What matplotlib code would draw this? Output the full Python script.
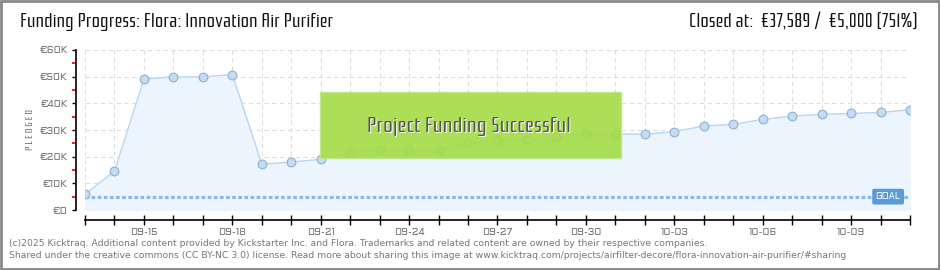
import matplotlib
matplotlib.use("Agg")
import matplotlib.pyplot as plt
from matplotlib.patches import Rectangle
from matplotlib.ticker import FuncFormatter, MultipleLocator

dates = ["09-13", "09-14", "09-15", "09-16", "09-17", "09-18", "09-19", "09-20",
         "09-21", "09-22", "09-23", "09-24", "09-25", "09-26", "09-27", "09-28",
         "09-29", "09-30", "10-01", "10-02", "10-03", "10-04", "10-05", "10-06",
         "10-07", "10-08", "10-09", "10-10", "10-11"]
pledged = [5900, 14600, 49100, 49900, 49900, 50800, 17200, 18000,
           19000, 21500, 22600, 22500, 22500, 25000, 26200, 26100,
           27300, 28500, 28500, 28400, 29400, 31500, 32100, 34000,
           35200, 35900, 36200, 36600, 37589]
goal = 5000
yticks = [0, 10000, 20000, 30000, 40000, 50000, 60000]
label_every = 3

narrow = ["Rationale", "Archivo Narrow", "DejaVu Sans"]
tickfont = ["Aldrich", "DejaVu Sans"]
plt.rcParams["font.family"] = narrow

fig = plt.figure(figsize=(9.4, 2.7), dpi=100)
W, H = 940, 270
ax = fig.add_axes([85 / W, 1 - 210 / H, 825 / W, 160 / H])

x = list(range(len(dates)))
ax.fill_between(x, pledged, 0, color="#ecf4fd", zorder=1)
ax.plot(x, pledged, color="#b9d7f5", lw=1, zorder=3)
ax.plot(x, pledged, "o", ms=6.3, mfc="#c4dcf6", mec="#93afcc", mew=0.8, zorder=4)

# goal line
ax.axhline(goal, color="#8db8e6", lw=2.2, ls=(0, (1.2, 0.8)), zorder=2)

ax.set_xlim(0, len(dates) - 1)
ax.set_ylim(0, 60000)

ax.set_xticks(x)
ax.set_xticklabels([d if (i - 2) % label_every == 0 else "" for i, d in enumerate(dates)])
ax.set_yticks(yticks)
ax.yaxis.set_major_formatter(FuncFormatter(lambda v, p: "€0" if v == 0 else f"€{int(v/1000)}K"))
ax.yaxis.set_minor_locator(MultipleLocator(5000))

ax.grid(True, which="major", color="#dddddd", ls=(0, (4, 3)), lw=0.8, zorder=0)
ax.set_axisbelow(True)

for s in ["top", "right"]:
    ax.spines[s].set_visible(False)
ax.spines["left"].set_position(("outward", 6.5))
ax.spines["bottom"].set_position(("outward", 7.2))
ax.spines["left"].set_linewidth(1.2)
ax.spines["bottom"].set_linewidth(1.2)

ax.tick_params(axis="y", which="major", direction="out", length=3, width=1, color="black",
               pad=3, labelsize=7, labelcolor="#777777", labelfontfamily=tickfont)
ax.tick_params(axis="y", which="minor", direction="out", length=3, width=1.2, color="#ee0000")
ax.tick_params(axis="x", which="major", direction="inout", length=7, width=1, color="black",
               pad=2, labelsize=7, labelcolor="#777777", labelfontfamily=tickfont)

ax.set_ylabel("P L E D G E D", fontsize=7, color="#666666", labelpad=3)

# goal label
ax.text(0.9735, goal, "GOAL", transform=ax.get_yaxis_transform(), ha="center", va="center",
        fontsize=6.5, family=tickfont, color="white", zorder=6,
        bbox=dict(boxstyle="round,pad=0.3,rounding_size=0.15", fc="#5b9bd9", ec="#5b9bd9"))

# success banner
banner = Rectangle((320 / W, 1 - 158 / H), 301 / W, 66 / H, transform=fig.transFigure,
                   fc="#a3dc45", ec="#bde88a", lw=1, alpha=0.9, zorder=10)
fig.add_artist(banner)
fig.text(469 / W + 0.0012, 1 - 126 / H - 0.004, "Project Funding Successful", ha="center", va="center",
         fontsize=15.5, color="white", zorder=11)
fig.text(469 / W, 1 - 126 / H, "Project Funding Successful", ha="center", va="center",
         fontsize=15.5, color="#555555", zorder=12)

# titles
fig.text(20 / W, 1 - 22 / H, "Funding Progress: Flora: Innovation Air Purifier", ha="left", va="center",
         fontsize=13.4, color="#111111")
fig.text(918 / W, 1 - 22 / H, "Closed at:  €37,589 /  €5,000 (751%)", ha="right", va="center",
         fontsize=13.4, color="#111111")

# footer
small = ["DejaVu Sans"]
fig.text(9 / W, 1 - 243 / H,
         "(c)2025 Kicktraq. Additional content provided by Kickstarter Inc. and Flora. Trademarks and related content are owned by their respective companies.",
         ha="left", va="center", family=small, fontsize=6.7, color="#777777")
fig.text(9 / W, 1 - 256 / H,
         "Shared under the creative commons (CC BY-NC 3.0) license. Read more about sharing this image at www.kicktraq.com/projects/airfilter-decore/flora-innovation-air-purifier/#sharing",
         ha="left", va="center", family=small, fontsize=6.7, color="#777777")

# border
fig.add_artist(Rectangle((0.001, 0.002), 0.998, 0.996, transform=fig.transFigure,
                         fill=False, ec="#888888", lw=2))

fig.savefig("out.png", dpi=100)
